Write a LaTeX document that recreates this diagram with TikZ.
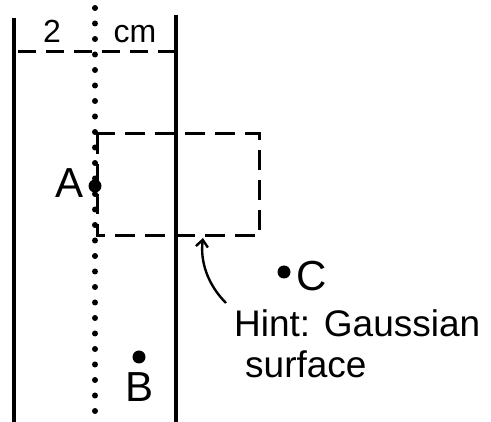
\documentclass[tikz,border=0pt]{standalone}
\usepackage{fontspec}
\setmainfont{Liberation Sans}
\usetikzlibrary{arrows.meta}
\tikzset{
  wall/.style={line width=3.4pt},
  dotline/.style={line width=6pt, line cap=round, dash pattern=on 0pt off 15.5pt},
  gauss/.style={line width=3pt, dash pattern=on 20pt off 10pt},
  charge/.style={circle, fill=black, inner sep=0pt, minimum size=13pt},
  lbl/.style={inner sep=0pt, font=\fontsize{32}{38}\selectfont},
  big/.style={inner sep=0pt, font=\fontsize{42}{48}\selectfont},
  hint/.style={inner sep=0pt, font=\fontsize{37}{44}\selectfont, align=left}
}
\begin{document}
\begin{tikzpicture}[x=1pt,y=-1pt]
\useasboundingbox (0,0) rectangle (491,422);
% walls
\coordinate (L1) at (14,18); \coordinate (L2) at (14,422);
\coordinate (R1) at (176,15); \coordinate (R2) at (176,422);
\draw[wall] (L1) -- (L2);
\draw[wall] (R1) -- (R2);
% dotted centre line
\coordinate (D1) at (95,8); \coordinate (D2) at (95,422);
\draw[dotline] (D1) -- (D2);
% dimension line
\coordinate (W1) at (14,52); \coordinate (W2) at (176,52);
\draw[line width=3pt, dash pattern=on 18pt off 10pt, dash phase=-4pt] (W1) -- (W2);
\node[lbl, anchor=base] (two) at (52,43) {2};
\node[lbl, anchor=base] (cm) at (135,43) {cm};
% gaussian surface
\draw[gauss] (97,134) rectangle (259,236);
\coordinate (S) at (203,238);
% charges
\node[charge] (A) at (95,186) {};
\node[big, anchor=east] (Al) at (84,183) {A};
\node[charge] (C) at (284,272) {};
\node[big, anchor=west] (Cl) at (296,276) {C};
\node[charge] (B) at (139,357) {};
\node[big, anchor=north] (Bl) at (140,372) {B};
% hint
\node[hint, anchor=base west] (h1) at (234,337) {Hint: Gaussian};
\node[hint, anchor=base west] (h2) at (245,378) {surface};
\coordinate (T) at (226,303);
\draw[line width=2.4pt, -{Straight Barb[length=7pt,width=12pt]}] (T) .. controls (208,285) and (200,262) .. (S);
\end{tikzpicture}
\end{document}
